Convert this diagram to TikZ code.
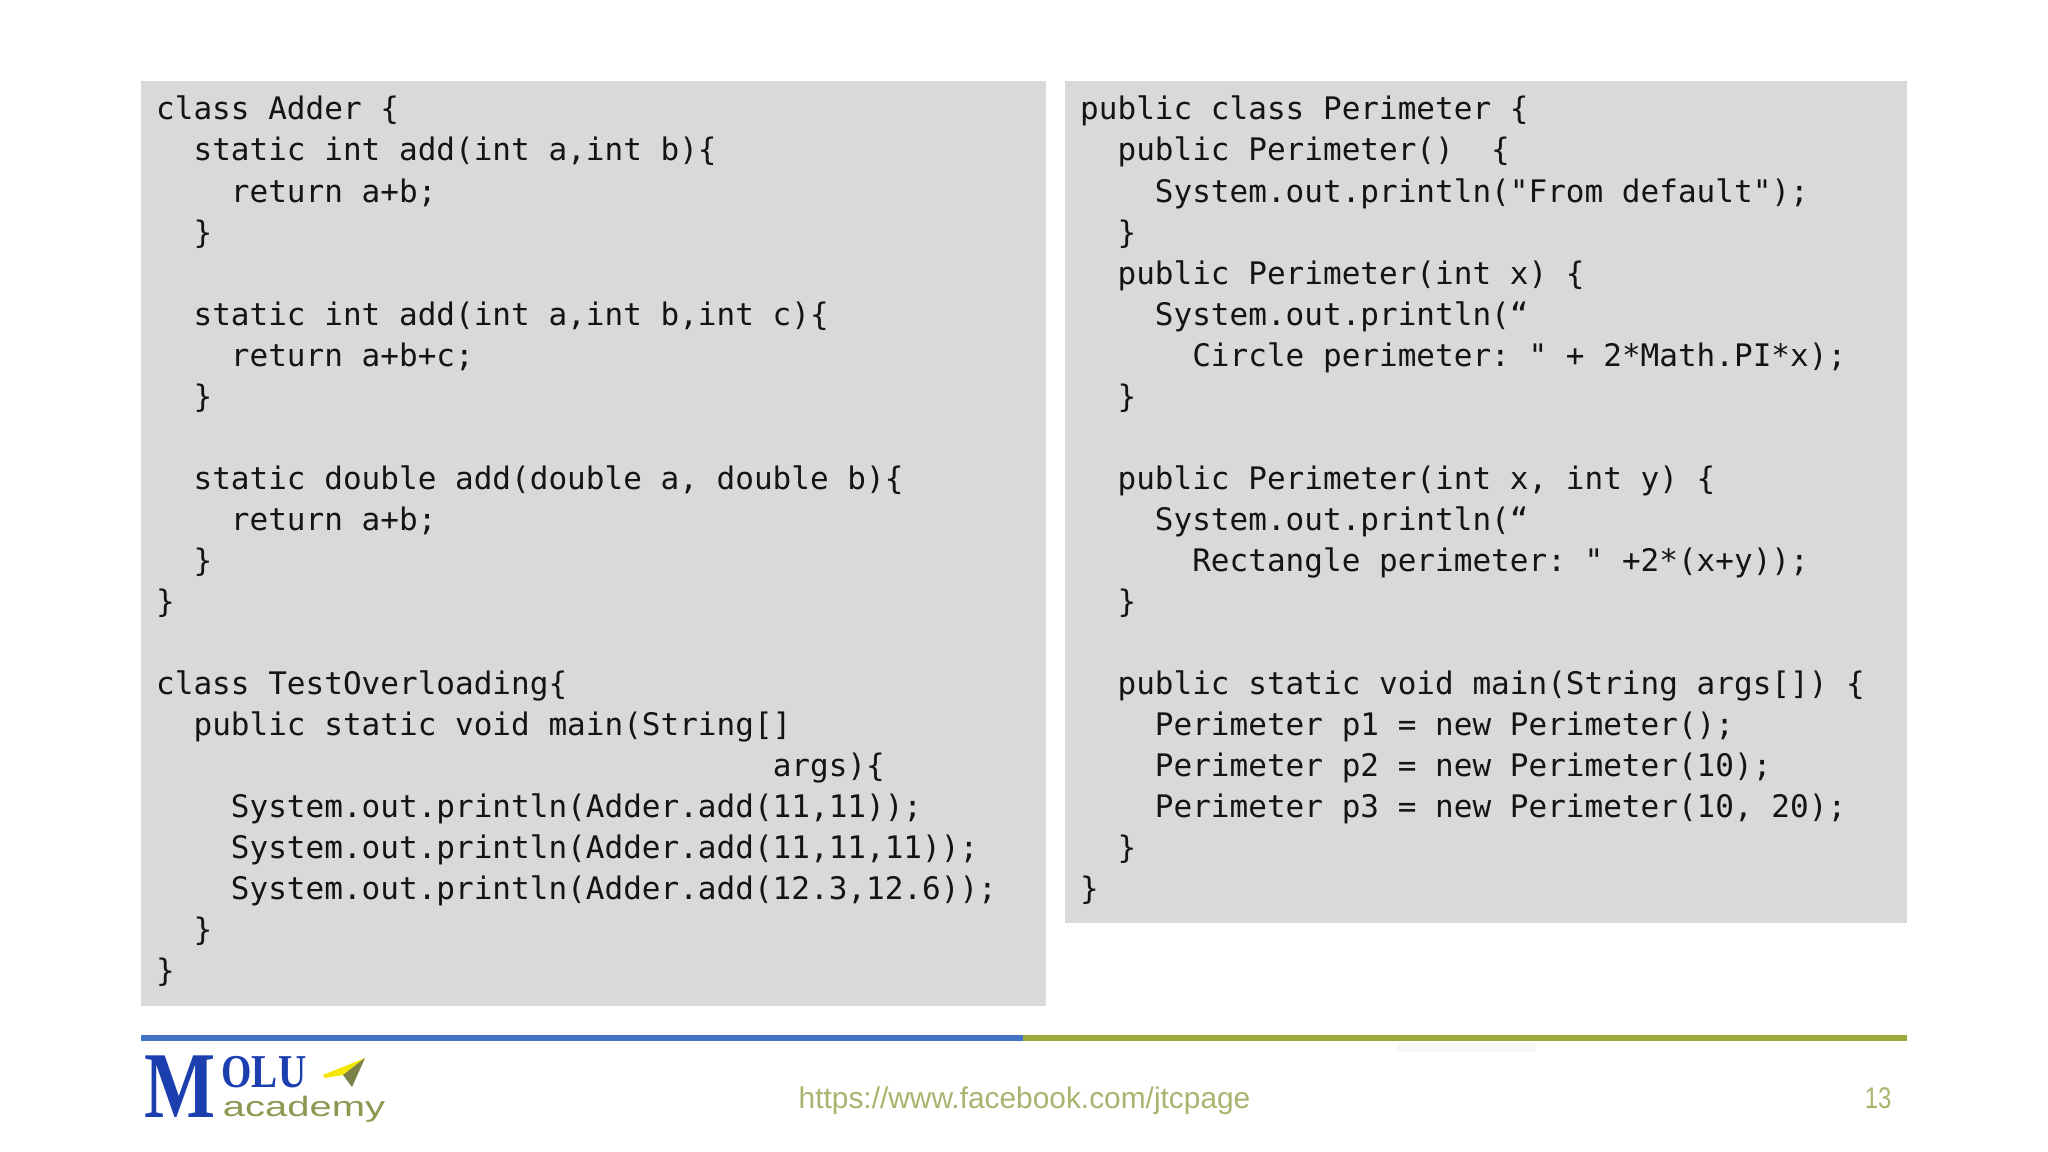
\documentclass[tikz,border=0pt]{standalone}
\usepackage{fontspec}
\setmainfont{Liberation Sans}
\setmonofont{DejaVu Sans Mono}
\newfontfamily\logoserif{Liberation Serif}
\definecolor{panelgray}{HTML}{D9D9D9}
\definecolor{ruleblue}{HTML}{4472C4}
\definecolor{ruleolive}{HTML}{9DA93B}
\definecolor{logoblue}{HTML}{1C3FB0}
\definecolor{logoolive}{HTML}{8F9752}
\definecolor{footolive}{HTML}{A9B56E}
\tikzset{
  panel/.style={fill=panelgray},
  codetext/.style={anchor=north west,inner sep=0pt,align=left,text=black!92,
    font=\ttfamily\fontsize{8.83}{11.68}\selectfont},
}
\begin{document}
\begin{tikzpicture}
\useasboundingbox (0,0) rectangle (20.48,11.52);
\fill[white] (0,0) rectangle (20.48,11.52);
\fill[panel] (1.41,1.46) rectangle (10.46,10.71); % panneau gauche
\fill[panel] (10.65,2.29) rectangle (19.07,10.71); % panneau droit
\node[codetext] (adder) at (1.555,10.565) {class Adder \{\\
~~static int add(int a,int b)\{\\
~~~~return a+b;\\
~~\}\\
\\
~~static int add(int a,int b,int c)\{\\
~~~~return a+b+c;\\
~~\}\\
\\
~~static double add(double a, double b)\{\\
~~~~return a+b;\\
~~\}\\
\}\\
\\
class TestOverloading\{\\
~~public static void main(String[]\\
~~~~~~~~~~~~~~~~~~~~~~~~~~~~~~~~~args)\{\\
~~~~System.out.println(Adder.add(11,11));\\
~~~~System.out.println(Adder.add(11,11,11));\\
~~~~System.out.println(Adder.add(12.3,12.6));\\
~~\}\\
\}};
\node[codetext] (perimeter) at (10.795,10.565) {public class Perimeter \{\\
~~public Perimeter()~~\{\\
~~~~System.out.println("From default");\\
~~\}\\
~~public Perimeter(int x) \{\\
~~~~System.out.println(“\\
~~~~~~Circle perimeter: " + 2*Math.PI*x);\\
~~\}\\
\\
~~public Perimeter(int x, int y) \{\\
~~~~System.out.println(“\\
~~~~~~Rectangle perimeter: " +2*(x+y));\\
~~\}\\
\\
~~public static void main(String args[]) \{\\
~~~~Perimeter p1 = new Perimeter();\\
~~~~Perimeter p2 = new Perimeter(10);\\
~~~~Perimeter p3 = new Perimeter(10, 20);\\
~~\}\\
\}};
% filet du bas
\fill[ruleblue] (1.41,1.11) rectangle (10.23,1.17);
\fill[ruleolive] (10.23,1.11) rectangle (19.07,1.17);
\fill[black!3] (13.97,1.00) rectangle (15.36,1.09);
% logo
\node[anchor=base west,inner sep=0pt,text=logoblue,xscale=.8,font=\logoserif\bfseries\fontsize{26.8}{26.8}\selectfont] (bigm) at (1.44,0.34) {M};
\node[anchor=base west,inner sep=0pt,text=logoblue,xscale=.83,font=\logoserif\bfseries\fontsize{13.4}{13.4}\selectfont] (olu) at (2.21,0.64) {OLU};
\node[anchor=base west,inner sep=0pt,text=logoolive,xscale=1.42,font=\fontsize{8}{8}\selectfont] (academy) at (2.22,0.35) {academy};
\fill[yellow!90!olive] (3.23,0.77) -- (3.65,0.94) -- (3.43,0.77) -- (3.25,0.74) -- cycle;
\fill[logoolive!85!black] (3.65,0.94) -- (3.43,0.77) -- (3.52,0.65) -- cycle;
% pied de page
\node[anchor=base west,inner sep=0pt,text=footolive,font=\fontsize{8.5}{8.5}\selectfont] (url) at (7.98,0.43) {https://www.facebook.com/jtcpage};
\node[anchor=base east,inner sep=0pt,text=footolive,xscale=.8,font=\fontsize{8.5}{8.5}\selectfont] (pagenum) at (18.92,0.43) {13};
\end{tikzpicture}
\end{document}
